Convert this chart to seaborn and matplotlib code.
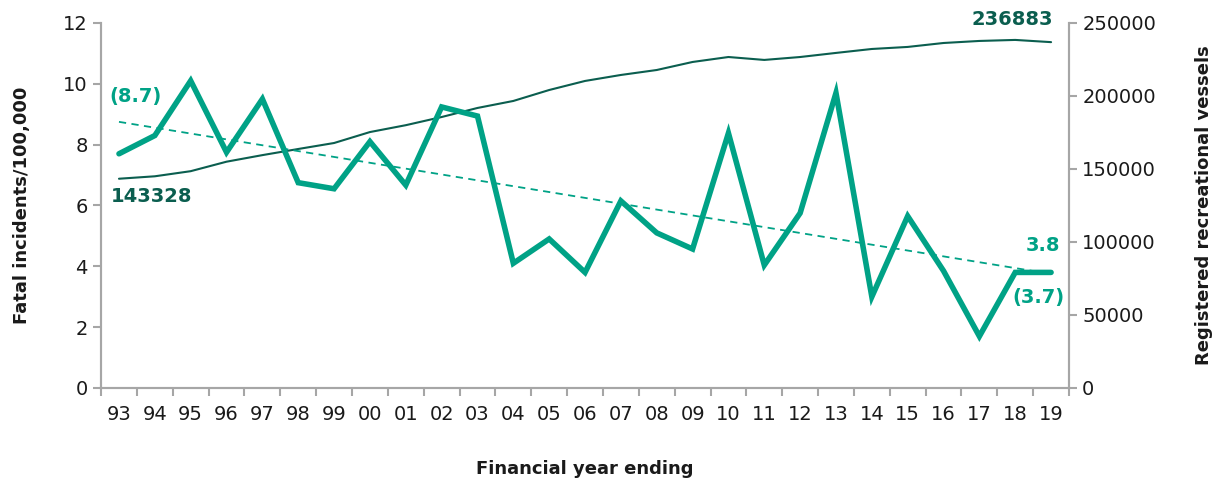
import numpy as np
import pandas as pd
import seaborn as sns
import matplotlib.pyplot as plt
from matplotlib.ticker import FixedLocator, NullFormatter

# Data
years = ["93", "94", "95", "96", "97", "98", "99", "00", "01", "02", "03", "04", "05",
         "06", "07", "08", "09", "10", "11", "12", "13", "14", "15", "16", "17", "18", "19"]
fatal_rate = [7.7, 8.3, 10.1, 7.75, 9.5, 6.75, 6.55, 8.1, 6.67, 9.24, 8.94, 4.1, 4.9,
              3.8, 6.15, 5.1, 4.57, 8.38, 4.04, 5.75, 9.7, 3.0, 5.65, 3.85, 1.7, 3.8, 3.8]
vessels = [143328, 145000, 148500, 155000, 159500, 163700, 167800, 175300, 180000,
           185600, 191800, 196600, 204100, 210300, 214400, 217800, 223300, 226700,
           224700, 226700, 229500, 232200, 233600, 236300, 237700, 238400, 236883]
trend_ends = [8.75, 3.75]   # dashed trend line, first and last year

teal = "#00a286"
dark = "#0b5e4f"
grey = "#a6a6a6"
ink = "#1a1a1a"

sns.set_theme(style="white")
plt.rcParams["font.family"] = ["DejaVu Sans"]

df = pd.DataFrame({"pos": np.arange(len(years)), "fatal": fatal_rate, "vessels": vessels})
trend_df = pd.DataFrame({"pos": [0, len(years) - 1], "trend": trend_ends})

fig = plt.figure(figsize=(12.22, 4.83), dpi=100)
ax = fig.add_axes([0.0827, 0.1967, 0.7921, 0.7557])
ax2 = ax.twinx()

sns.lineplot(data=df, x="pos", y="vessels", ax=ax2, color=dark, linewidth=1.5)
sns.lineplot(data=trend_df, x="pos", y="trend", ax=ax, color=teal, linewidth=1.3,
             linestyle=(0, (4, 3)))
sns.lineplot(data=df, x="pos", y="fatal", ax=ax, color=teal, linewidth=4,
             solid_joinstyle="miter", solid_capstyle="round")

# left axis in front so the fatal line draws above the vessel line
ax.set_zorder(ax2.get_zorder() + 1)
ax.patch.set_visible(False)

ax.set_xlim(-0.5, len(years) - 0.5)
ax.set_ylim(0, 12)
ax2.set_ylim(0, 250000)
ax.set_yticks(range(0, 13, 2))
ax2.set_yticks(range(0, 250001, 50000))
ax2.set_yticklabels([str(v) for v in range(0, 250001, 50000)])

ax.set_xticks(df["pos"])
ax.set_xticklabels(years)
ax.xaxis.set_minor_locator(FixedLocator(np.arange(-0.5, len(years), 1)))
ax.xaxis.set_minor_formatter(NullFormatter())
ax.tick_params(axis="x", which="major", length=0, pad=12, labelsize=14, colors=ink)
ax.tick_params(axis="x", which="minor", length=6, width=1.5, color=grey, bottom=True)
ax.tick_params(axis="y", length=6, width=1.5, color=grey, labelsize=14, labelcolor=ink,
               left=True)
ax2.tick_params(axis="y", length=6, width=1.5, color=grey, labelsize=14, labelcolor=ink,
                right=True)

for a in (ax, ax2):
    a.spines["top"].set_visible(False)
    for s in ("left", "right", "bottom"):
        a.spines[s].set_color(grey)
        a.spines[s].set_linewidth(1.5)

ax.set_xlabel("Financial year ending", fontsize=13, fontweight="bold", labelpad=26,
              color=ink)
ax.set_ylabel("Fatal incidents/100,000", fontsize=13, fontweight="bold", labelpad=23,
              color=ink)
ax2.set_ylabel("Registered recreational vessels", fontsize=13, fontweight="bold",
               labelpad=28, color=ink)

# value labels
lbl = dict(fontsize=14, fontweight="bold", va="center")
ax.text(0.45, 9.57, "(8.7)", color=teal, ha="center", **lbl)
ax.text(0.9, 6.28, str(vessels[0]), color=dark, ha="center", **lbl)
ax.text(26.06, 12.1, str(vessels[-1]), color=dark, ha="right", **lbl)
ax.text(26.26, 4.7, "3.8", color=teal, ha="right", **lbl)
ax.text(26.37, 2.96, "(3.7)", color=teal, ha="right", **lbl)

fig.savefig("out.png", dpi=100)
